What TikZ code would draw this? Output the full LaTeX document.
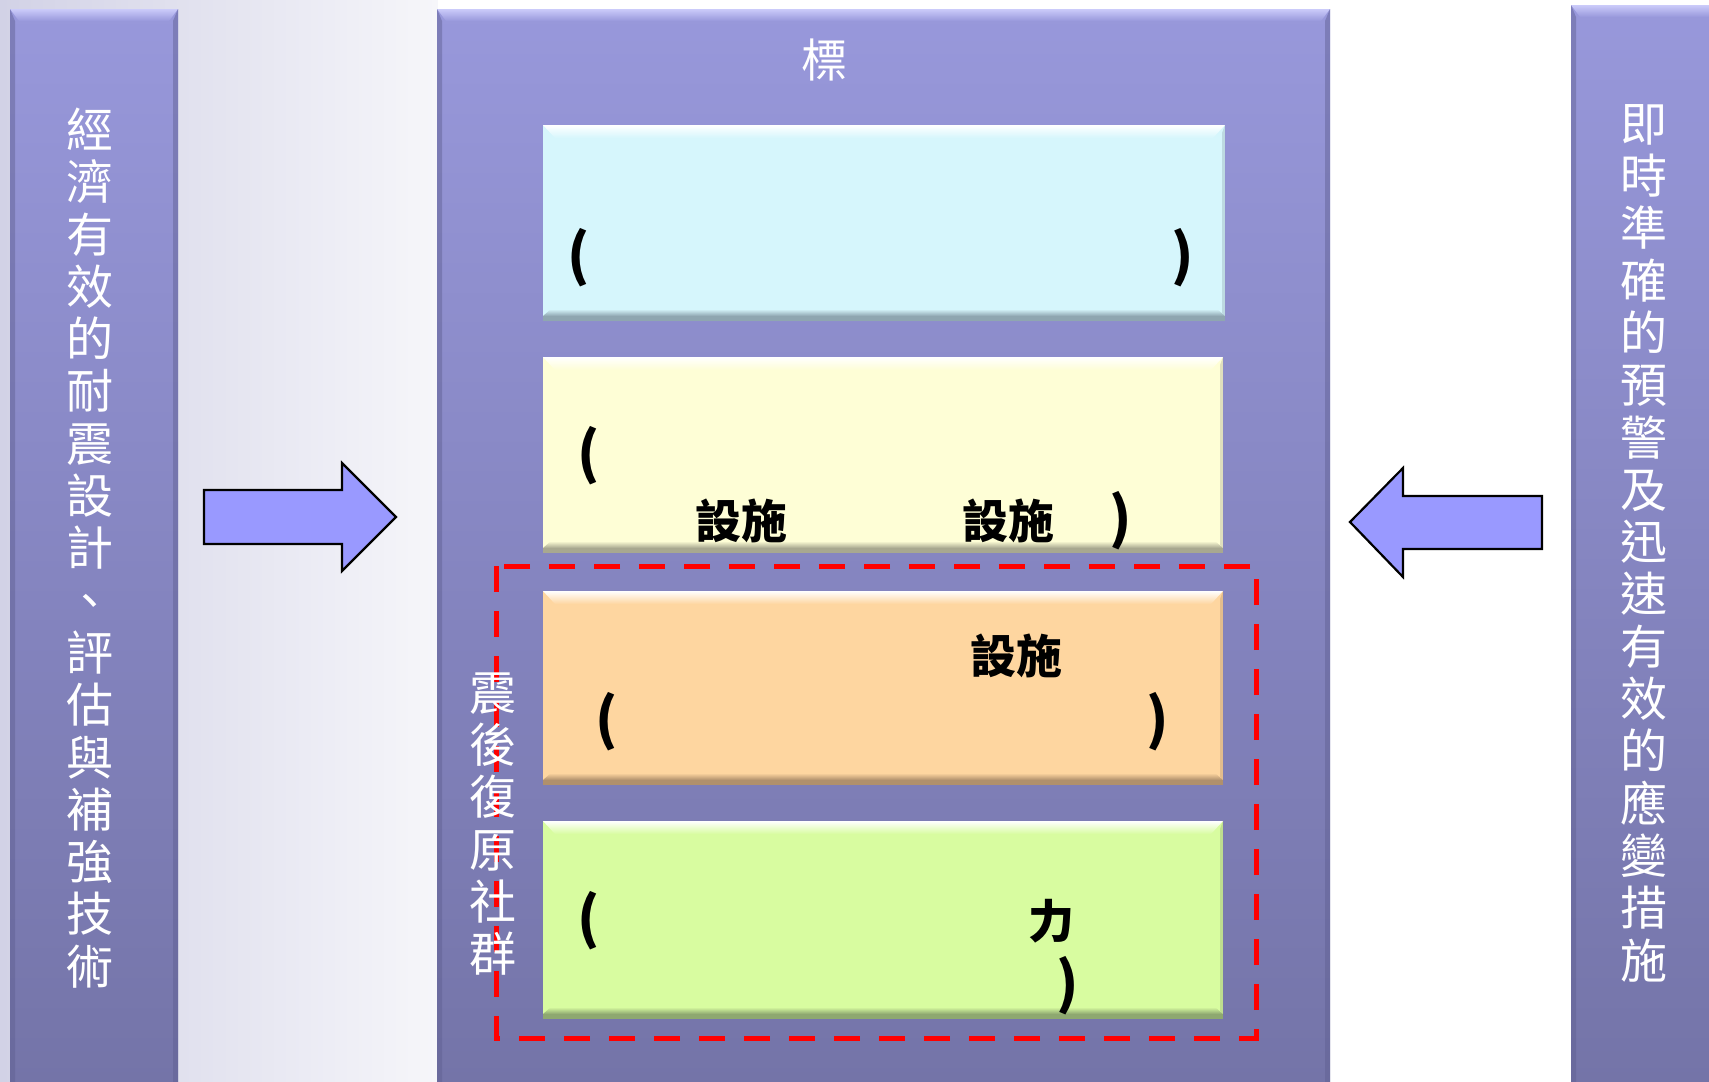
\documentclass[tikz,border=0pt]{standalone}
\usepackage{fontspec}
\newfontfamily\cjk{Noto Sans CJK TC}
\definecolor{bgL}{HTML}{D2D2E6}
\definecolor{bgR}{HTML}{F6F6FA}
\definecolor{barT}{HTML}{9898DB}
\definecolor{barB}{HTML}{7474A8}
\definecolor{barHi}{HTML}{CBCBFA}
\definecolor{barEdge}{HTML}{5E5E90}
\definecolor{arrowFill}{HTML}{9999FF}
\definecolor{cyanF}{HTML}{D6F6FC}
\definecolor{cyanD}{HTML}{8FA6B0}
\definecolor{yelF}{HTML}{FEFED6}
\definecolor{yelD}{HTML}{A8A890}
\definecolor{oraF}{HTML}{FED6A0}
\definecolor{oraD}{HTML}{B0906C}
\definecolor{grnF}{HTML}{D8FCA0}
\definecolor{grnD}{HTML}{8EA870}
\newcommand\outerbar[4]{%
  \shade[top color=barT, bottom color=barB] (#1,#2) rectangle (#3,#4);
  \shade[top color=barHi, bottom color=barT] (#1,#2) -- (#3,#2) -- (#3-9,#2+12) -- (#1+9,#2+12) -- cycle;
  \fill[barEdge, opacity=0.45] (#1,#2) -- (#1+5,#2+12) -- (#1+5,#4) -- (#1,#4) -- cycle;
  \fill[barEdge, opacity=0.45] (#3,#2) -- (#3-5,#2+12) -- (#3-5,#4) -- (#3,#4) -- cycle;
}
\newcommand\innerbox[6]{%
  \fill[#6] (#1,#2) rectangle (#3,#4+5);
  \fill[#5] (#1,#2) rectangle (#3,#4);
  \shade[top color=white, bottom color=#5] (#1,#2) -- (#3,#2) -- (#3-12,#2+13) -- (#1+12,#2+13) -- cycle;
  \shade[top color=#5, bottom color=#6] (#1+8,#4-7) -- (#3-8,#4-7) -- (#3,#4) -- (#1,#4) -- cycle;
  \fill[#6, opacity=0.35] (#3,#2) -- (#3-3,#2+8) -- (#3-3,#4-3) -- (#3,#4) -- cycle;
}
\tikzset{
  vtext/.style={text=white, font=\cjk\fontsize{47}{52.3}\selectfont, align=center, inner sep=0pt},
  btext/.style={text=black, font=\cjk\bfseries\fontsize{46}{50}\selectfont, inner sep=0pt},
  paren/.style={text=black, font=\cjk\bfseries\fontsize{56}{60}\selectfont, inner sep=0pt},
  bigarrow/.style={fill=arrowFill, draw=black, line width=2.2pt, line join=miter},
}
\begin{document}
\begin{tikzpicture}[x=1pt,y=-1pt]
\useasboundingbox (0,0) rectangle (1709,1082);
% background
\shade[left color=bgL, right color=bgR] (0,0) rectangle (438,1082);
\fill[white] (438,0) rectangle (1709,1082);
% bars
\outerbar{10}{9}{178}{1082}
\outerbar{437}{9}{1330}{1082}
\outerbar{1571}{5}{1725}{1082}
% inner boxes
\innerbox{543}{125}{1225}{316}{cyanF}{cyanD}
\innerbox{543}{357}{1223}{548}{yelF}{yelD}
\innerbox{543}{591}{1223}{780}{oraF}{oraD}
\innerbox{543}{821}{1223}{1014}{grnF}{grnD}
\coordinate (b1) at (884,220);
\coordinate (b2) at (883,452);
\coordinate (b3) at (883,685);
\coordinate (b4) at (883,917);
% red dashed group
\draw[red, line width=5pt, dash pattern=on 26pt off 19pt] (496,566) rectangle (1256,1038);
% arrows
\fill[bigarrow] (204,490) -- (342,490) -- (342,463) -- (396,517) -- (342,571) -- (342,544) -- (204,544) -- cycle;
\fill[bigarrow] (1542,496) -- (1403,496) -- (1403,468) -- (1350,522) -- (1403,577) -- (1403,549) -- (1542,549) -- cycle;
% texts
\node[vtext] (lefttxt) at (90,548) {經\\濟\\有\\效\\的\\耐\\震\\設\\計\\、\\評\\估\\與\\補\\強\\技\\術};
\node[vtext] (righttxt) at (1644,543) {即\\時\\準\\確\\的\\預\\警\\及\\迅\\速\\有\\效\\的\\應\\變\\措\\施};
\node[vtext] (grouptxt) at (493,824) {震\\後\\復\\原\\社\\群};
\node[text=white, font=\cjk\fontsize{46}{50}\selectfont, inner sep=0pt] (title) at (824,60) {標};
% box 1
\node[paren] (p1a) at (579,258) {(};
\node[paren] (p1b) at (1183,258) {)};
% box 2
\node[paren] (p2a) at (589,456) {(};
\node[btext] (s2a) at (741,521) {設施};
\node[btext] (s2b) at (1008,521) {設施};
\node[paren] (p2b) at (1121,521) {)};
% box 3
\node[btext] (s3) at (1016,656) {設施};
\node[paren] (p3a) at (607,722) {(};
\node[paren] (p3b) at (1158,722) {)};
% box 4
\node[paren] (p4a) at (589,921) {(};
\node[btext] (s4) at (1051,921) {力};
\node[paren] (p4b) at (1068,986) {)};
\end{tikzpicture}
\end{document}
